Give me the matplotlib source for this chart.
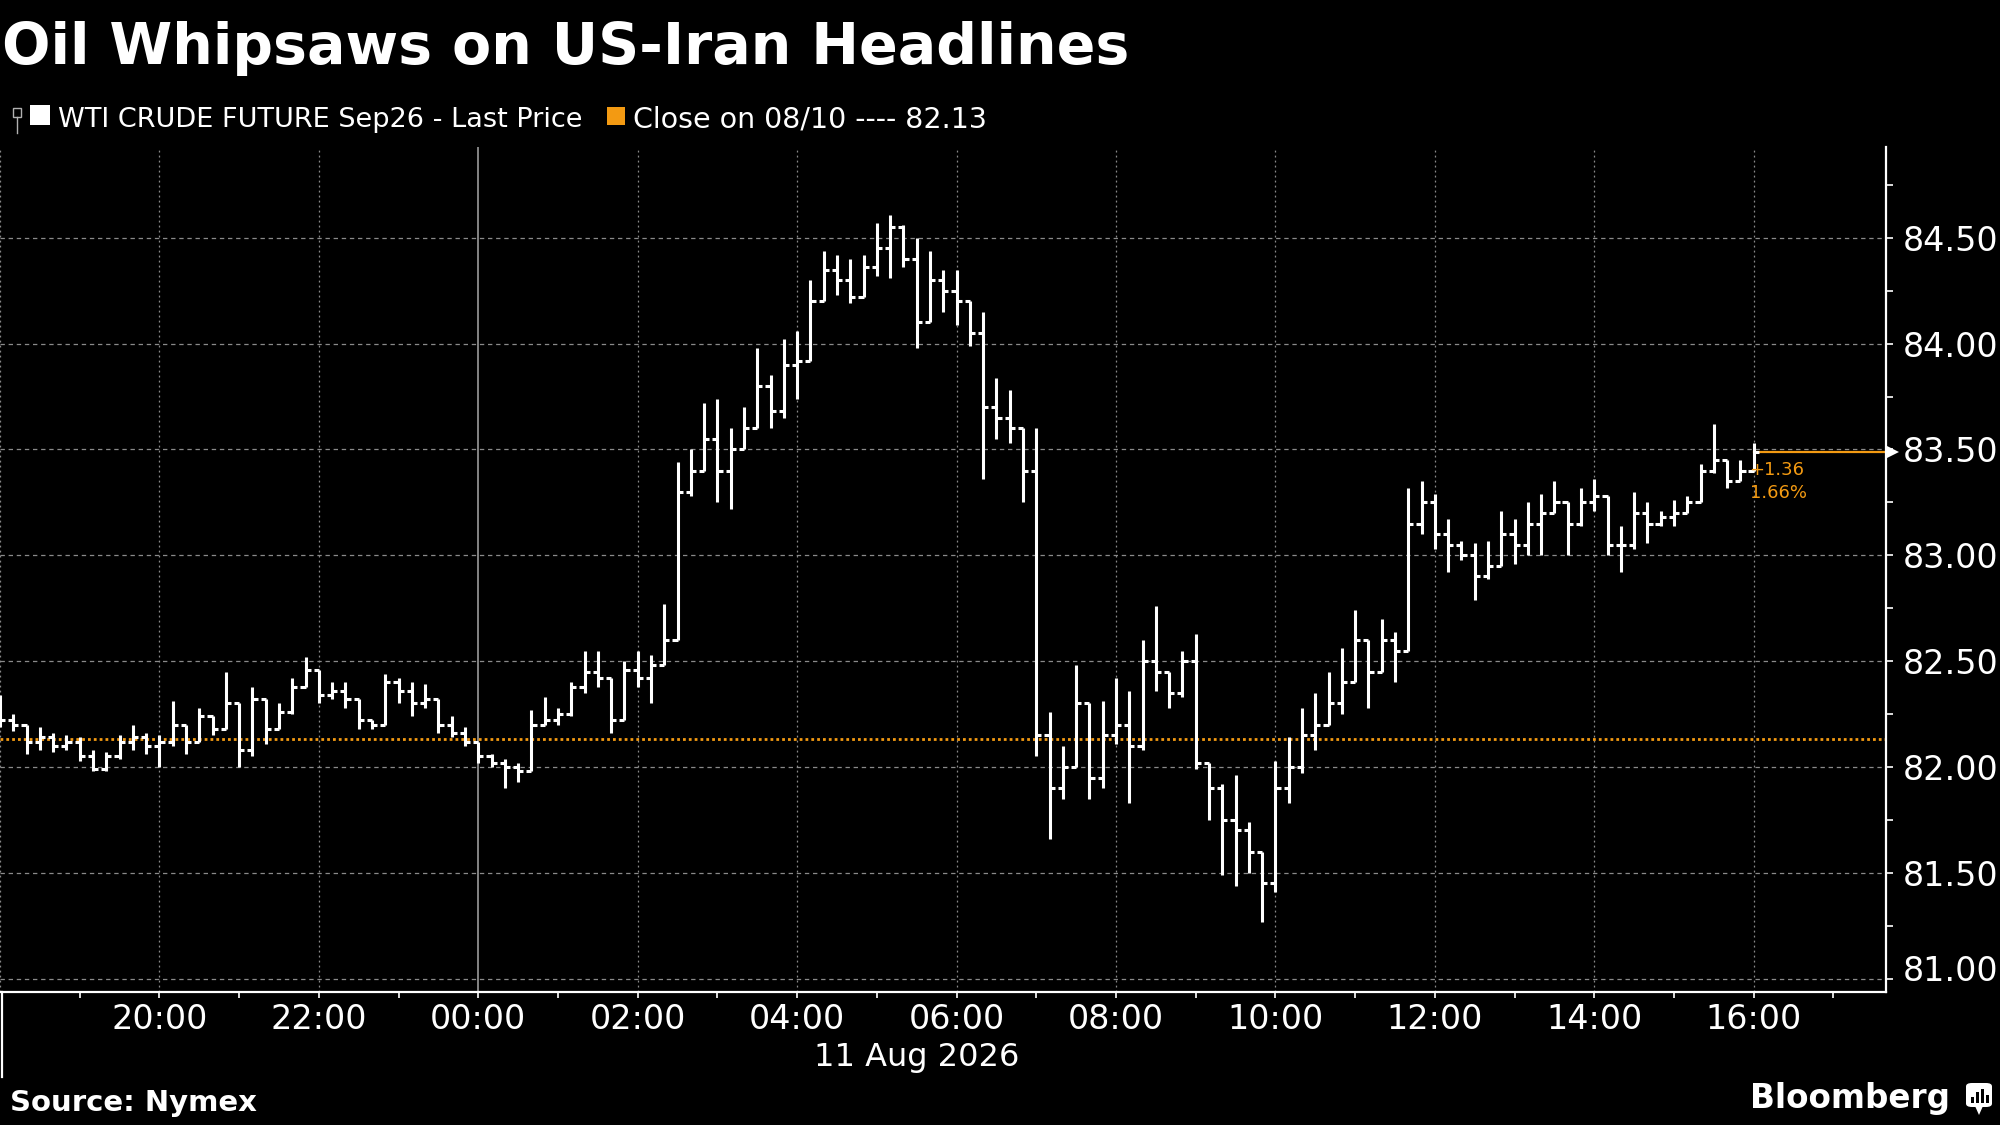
import matplotlib
matplotlib.use("Agg")
import matplotlib.pyplot as plt
import numpy as np
from matplotlib.patches import Rectangle, FancyBboxPatch, Polygon
from matplotlib.lines import Line2D
from matplotlib import transforms

# ---------------- data ----------------
title = "Oil Whipsaws on US-Iran Headlines"
series_label = "WTI CRUDE FUTURE Sep26 - Last Price"
close_label = "Close on 08/10 ---- 82.13"
prev_close = 82.13
change_text = "+1.36"
change_pct_text = "1.66%"
source_text = "Source: Nymex"
date_label = "11 Aug 2026"
brand_text = "Bloomberg"

# 10-minute bars starting 18:00 on 10 Aug (hours since 18:00)
bar_minutes = 10
first_open = 82.30
highs = [
    82.34, 82.25, 82.20, 82.19, 82.16, 82.15, 82.14, 82.08, 82.07, 82.15,
    82.20, 82.16, 82.15, 82.31, 82.20, 82.28, 82.24, 82.45, 82.30, 82.38,
    82.32, 82.30, 82.42, 82.52, 82.46, 82.40, 82.40, 82.32, 82.22, 82.44,
    82.42, 82.40, 82.39, 82.32, 82.24, 82.19, 82.12, 82.06, 82.04, 82.02,
    82.27, 82.33, 82.28, 82.40, 82.55, 82.55, 82.42, 82.50, 82.55, 82.53,
    82.77, 83.44, 83.50, 83.72, 83.74, 83.60, 83.70, 83.98, 83.85, 84.02,
    84.06, 84.30, 84.44, 84.42, 84.40, 84.42, 84.57, 84.61, 84.56, 84.50,
    84.44, 84.35, 84.35, 84.20, 84.15, 83.84, 83.78, 83.60, 83.60, 82.26,
    82.10, 82.48, 82.30, 82.31, 82.42, 82.36, 82.60, 82.76, 82.45, 82.55,
    82.63, 82.02, 81.92, 81.96, 81.74, 81.60, 82.03, 82.14, 82.28, 82.35,
    82.45, 82.56, 82.74, 82.60, 82.70, 82.64, 83.32, 83.35, 83.29, 83.17,
    83.07, 83.06, 83.07, 83.21, 83.17, 83.25, 83.29, 83.35, 83.25, 83.32,
    83.36, 83.28, 83.14, 83.30, 83.25, 83.21, 83.26, 83.28, 83.43, 83.62,
    83.45, 83.45, 83.53,
]
lows = [
    82.19, 82.17, 82.06, 82.08, 82.07, 82.08, 82.03, 81.98, 81.98, 82.04,
    82.08, 82.06, 82.00, 82.10, 82.06, 82.12, 82.15, 82.18, 82.00, 82.05,
    82.11, 82.18, 82.25, 82.38, 82.30, 82.32, 82.28, 82.18, 82.18, 82.20,
    82.30, 82.24, 82.28, 82.16, 82.14, 82.10, 82.02, 82.00, 81.90, 81.93,
    81.98, 82.20, 82.20, 82.24, 82.35, 82.38, 82.16, 82.22, 82.38, 82.30,
    82.48, 82.60, 83.28, 83.40, 83.25, 83.22, 83.50, 83.60, 83.60, 83.65,
    83.74, 83.92, 84.20, 84.23, 84.19, 84.22, 84.32, 84.31, 84.36, 83.98,
    84.10, 84.15, 84.09, 83.99, 83.36, 83.55, 83.53, 83.25, 82.05, 81.66,
    81.85, 82.00, 81.85, 81.90, 82.11, 81.83, 82.08, 82.36, 82.28, 82.33,
    81.99, 81.75, 81.49, 81.44, 81.50, 81.27, 81.41, 81.83, 81.97, 82.08,
    82.20, 82.25, 82.40, 82.28, 82.45, 82.40, 82.55, 83.10, 83.03, 82.92,
    82.98, 82.79, 82.89, 82.95, 82.96, 83.00, 83.00, 83.20, 83.00, 83.14,
    83.21, 83.00, 82.92, 83.03, 83.06, 83.14, 83.14, 83.20, 83.25, 83.39,
    83.32, 83.35, 83.40,
]
closes = [
    82.22, 82.20, 82.12, 82.14, 82.10, 82.12, 82.05, 81.99, 82.05, 82.12,
    82.14, 82.10, 82.12, 82.20, 82.12, 82.24, 82.18, 82.30, 82.08, 82.32,
    82.18, 82.26, 82.38, 82.46, 82.34, 82.36, 82.32, 82.22, 82.20, 82.40,
    82.36, 82.30, 82.32, 82.20, 82.16, 82.12, 82.05, 82.02, 82.00, 81.98,
    82.20, 82.22, 82.25, 82.38, 82.45, 82.42, 82.22, 82.46, 82.42, 82.48,
    82.60, 83.30, 83.40, 83.55, 83.40, 83.50, 83.60, 83.80, 83.68, 83.90,
    83.92, 84.20, 84.35, 84.30, 84.22, 84.36, 84.45, 84.55, 84.40, 84.10,
    84.30, 84.25, 84.20, 84.05, 83.70, 83.65, 83.60, 83.40, 82.15, 81.90,
    82.00, 82.30, 81.95, 82.15, 82.20, 82.10, 82.50, 82.45, 82.35, 82.50,
    82.02, 81.90, 81.75, 81.70, 81.60, 81.45, 81.90, 82.00, 82.15, 82.20,
    82.30, 82.40, 82.60, 82.45, 82.60, 82.55, 83.15, 83.25, 83.10, 83.05,
    83.00, 82.90, 82.95, 83.10, 83.05, 83.15, 83.20, 83.25, 83.15, 83.25,
    83.28, 83.05, 83.05, 83.20, 83.15, 83.18, 83.20, 83.25, 83.40, 83.45,
    83.35, 83.40, 83.49,
]

x_tick_hours = [2, 4, 6, 8, 10, 12, 14, 16, 18, 20, 22]
x_tick_labels = ["20:00", "22:00", "00:00", "02:00", "04:00", "06:00",
                 "08:00", "10:00", "12:00", "14:00", "16:00"]
midnight_hour = 6
y_ticks = [81.0, 81.5, 82.0, 82.5, 83.0, 83.5, 84.0, 84.5]
y_tick_labels = ["81.00", "81.50", "82.00", "82.50", "83.00", "83.50", "84.00", "84.50"]

# ---------------- style ----------------
ORANGE = "#f39a12"
GRID = "#8a8a8a"
W, H = 2000, 1125


def fx(px):
    return px / W


def fy(py):
    return 1 - py / H


plt.rcParams["font.family"] = ["DejaVu Sans"]
fig = plt.figure(figsize=(20, 11.25), dpi=100, facecolor="black")
ax = fig.add_axes([0, fy(992), fx(1886), (992 - 147) / H], facecolor="black")

n = len(closes)
t = np.arange(n) * bar_minutes / 60.0
opens = [first_open] + closes[:-1]

xmax = 23.66
ax.set_xlim(0, xmax)
ax.set_ylim(80.937, 84.929)

# grid
for yv in y_ticks:
    ax.axhline(yv, color=GRID, lw=0.9, ls=(0, (3.5, 3)), zorder=0)
for xv in [0] + x_tick_hours:
    if xv == midnight_hour:
        ax.axvline(xv, color="#a8a8a8", lw=1.1, zorder=0)
    else:
        ax.axvline(xv, color=GRID, lw=0.9, ls=(0, (1.5, 2.5)), zorder=0)

# previous close line
ax.axhline(prev_close, color=ORANGE, lw=2.0, ls=(0, (1, 1.1)), zorder=1)

# OHLC bars
w = 0.065
lw_bar = 2.2
ax.vlines(t, lows, highs, color="white", lw=lw_bar, zorder=3)
ax.hlines(opens, t - w, t, color="white", lw=lw_bar, zorder=3)
ax.hlines(closes, t, t + w, color="white", lw=lw_bar, zorder=3)

# last price line + marker
ax.plot([t[-1], xmax], [closes[-1], closes[-1]], color=ORANGE, lw=1.6, zorder=2)
tri_tr = transforms.offset_copy(ax.transData, fig=fig, x=7, y=0, units="dots")
ax.plot([xmax], [closes[-1]], marker=">", color="white", ms=8, mew=0,
        transform=tri_tr, clip_on=False, zorder=5)
ax.annotate(change_text, xy=(t[-1], closes[-1]), xytext=(-3, -13),
            textcoords="offset points", color=ORANGE, fontsize=13,
            ha="left", va="center")
ax.annotate(change_pct_text, xy=(t[-1], closes[-1]), xytext=(-3, -30),
            textcoords="offset points", color=ORANGE, fontsize=13,
            ha="left", va="center")

# axes styling
for s in ["left", "top"]:
    ax.spines[s].set_visible(False)
for s in ["right", "bottom"]:
    ax.spines[s].set_color("white")
    ax.spines[s].set_linewidth(1.6)

ax.set_xticks(x_tick_hours)
ax.set_xticklabels(x_tick_labels)
ax.set_xticks(np.arange(1, 24, 2), minor=True)
ax.tick_params(axis="x", which="both", colors="white", direction="out",
               length=4.5, width=1.2, pad=3.5, labelsize=24, labelcolor="white")

ax.yaxis.tick_right()
ax.set_yticks(y_ticks)
ax.set_yticklabels(y_tick_labels)
ax.set_yticks(np.arange(81.25, 84.9, 0.5), minor=True)
ax.tick_params(axis="y", which="both", colors="white", direction="out",
               length=5, width=1.2, pad=7, labelsize=24, labelcolor="white",
               left=False, right=True, labelleft=False, labelright=True)
# lift the lowest label off the axis line
lowest = ax.yaxis.get_major_ticks()[0]
lowest.label2.set_transform(lowest.label2.get_transform() +
                            transforms.ScaledTranslation(0, 11 / 100, fig.dpi_scale_trans))

# ---------------- figure texts ----------------
fig.text(fx(2), fy(64), title, fontsize=41, fontweight="bold", color="white",
         ha="left", va="baseline")

# legend
fig.patches.append(Rectangle((fx(13), fy(117)), fx(8), 9 / H, fill=False,
                             edgecolor="#b0b0b0", lw=1.0, transform=fig.transFigure))
fig.lines.append(Line2D([fx(17), fx(17)], [fy(117), fy(133)], color="#b0b0b0",
                        lw=1.0, transform=fig.transFigure))
fig.patches.append(Rectangle((fx(30), fy(125)), fx(20), 20 / H, facecolor="white",
                             edgecolor="none", transform=fig.transFigure))
fig.text(fx(58), fy(127), series_label, fontsize=19.5, color="white",
         ha="left", va="baseline")
fig.patches.append(Rectangle((fx(607), fy(125)), fx(18), 18 / H, facecolor=ORANGE,
                             edgecolor="none", transform=fig.transFigure))
fig.text(fx(633), fy(127), close_label, fontsize=20.5, color="white",
         ha="left", va="baseline")

# date label
fig.text(fx(917), fy(1066), date_label, fontsize=23, color="white",
         ha="center", va="baseline")

# left day-boundary line below axis
fig.lines.append(Line2D([fx(1.5), fx(1.5)], [fy(992), fy(1077)], color="white",
                        lw=1.6, transform=fig.transFigure))

# footer
fig.text(fx(10), fy(1111), source_text, fontsize=21, fontweight="bold",
         color="white", ha="left", va="baseline")
fig.text(fx(1950), fy(1108), brand_text, fontsize=23.5, fontweight="bold",
         color="white", ha="right", va="baseline")
# logo
fig.patches.append(FancyBboxPatch((fx(1966), fy(1107)), fx(26), 24 / H,
                                  boxstyle="round,pad=0,rounding_size=0.003",
                                  facecolor="white", edgecolor="none",
                                  transform=fig.transFigure))
fig.patches.append(Polygon([(fx(1975), fy(1106)), (fx(1983), fy(1106)),
                            (fx(1979), fy(1115))], closed=True, facecolor="white",
                           edgecolor="none", transform=fig.transFigure))
for bx, top in [(1971, 1097), (1976, 1092), (1981, 1089), (1986, 1095)]:
    fig.patches.append(Rectangle((fx(bx), fy(1103)), fx(2.5), (1103 - top) / H,
                                 facecolor="black", edgecolor="none",
                                 transform=fig.transFigure))

fig.savefig("out.png", dpi=100, facecolor="black")
